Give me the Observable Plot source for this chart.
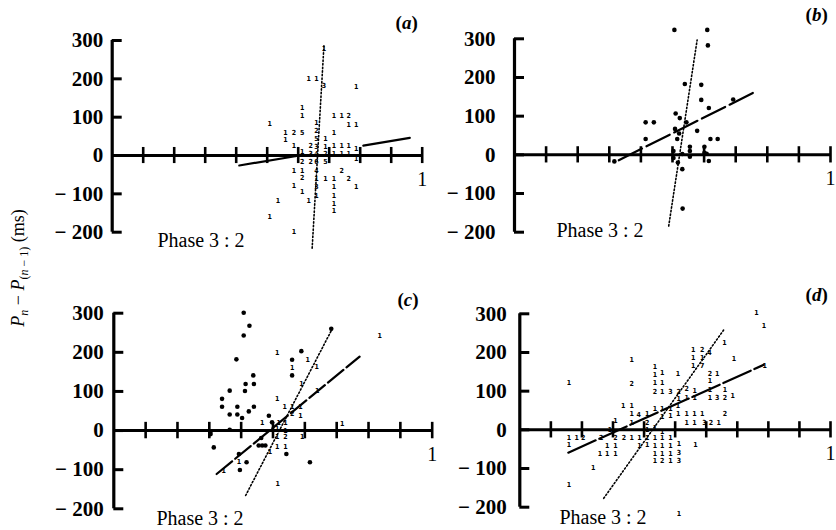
<!DOCTYPE html>
<html>
<head>
<meta charset="utf-8">
<script src="https://cdn.jsdelivr.net/npm/d3@7"></script>
<script src="https://cdn.jsdelivr.net/npm/@observablehq/plot@0.6"></script>
<style>
  body { margin: 0; background: #fff; }
  #wrap { position: relative; width: 836px; height: 530px; overflow: hidden; background: #fff; font-family: "Liberation Serif", "DejaVu Serif", serif; color: #000; }
  .pl { position: absolute; }
  .lab { position: absolute; font-size: 19px; font-weight: bold; white-space: nowrap; transform: translate(-50%, -50%); }
  .phase { position: absolute; font-size: 20px; white-space: nowrap; transform: translate(-50%, -50%); }
  #ylab { position: absolute; left: 20px; top: 268px; font-size: 18px; white-space: nowrap; transform: translate(-50%, -50%) rotate(-90deg); }
  #ylab sub { font-size: 12px; }
</style>
</head>
<body>
<div id="wrap"></div>
<script>
// ---------- data ----------
const yTicks = [-200, -100, 0, 100, 200, 300];
const xTicks = [0.1, 0.2, 0.3, 0.4, 0.5, 0.6, 0.7, 0.8, 0.9, 1];
const panelLetters = ["a", "b", "c", "d"];
const phaseLabel = "Phase 3 : 2";

// panel (a): frequency digits [x, y, count]
const digitsA = [
  [0.683,279,"1"],[0.634,201,"1"],[0.659,201,"1"],[0.683,182,"3"],[0.787,180,"1"],
  [0.613,125,"1"],[0.613,104,"1"],[0.715,104,"1"],[0.740,104,"1"],[0.763,104,"2"],
  [0.763,80,"1"],[0.787,80,"1"],[0.508,82,"1"],[0.508,-160,"1"],[0.535,-117,"1"],
  [0.559,60,"1"],[0.559,42,"1"],[0.586,60,"2"],[0.586,26,"1"],[0.586,-39,"1"],
  [0.586,-78,"1"],[0.586,-199,"1"],[0.613,60,"5"],[0.613,9,"1"],[0.613,-17,"2"],
  [0.613,-39,"1"],[0.613,-59,"2"],[0.613,-95,"1"],[0.634,-117,"1"],[0.640,26,"2"],
  [0.640,4,"3"],[0.640,-17,"2"],
  [0.659,85,"1"],[0.659,65,"2"],[0.659,43,"5"],[0.659,22,"3"],[0.659,4,"4"],
  [0.659,-17,"6"],[0.659,-39,"4"],[0.659,-61,"1"],[0.659,-82,"3"],[0.659,-104,"1"],
  [0.688,43,"1"],[0.688,22,"1"],[0.688,4,"2"],[0.688,-17,"5"],[0.688,-61,"1"],
  [0.715,60,"1"],[0.715,26,"1"],[0.715,4,"1"],[0.715,-61,"1"],[0.715,-82,"1"],
  [0.715,-104,"1"],[0.715,-126,"1"],[0.715,-143,"1"],
  [0.740,26,"1"],[0.740,4,"1"],[0.740,-39,"2"],
  [0.763,26,"1"],[0.763,4,"1"],[0.763,-61,"2"],
  [0.787,17,"1"],[0.787,-9,"1"],[0.787,-82,"1"]
];
const dotsA = [];
const regA = [[0.41,-26,1],[0.59,-2,1],[0.81,26,2],[0.96,46,2]];
const steepA = [[0.645,-242],[0.683,286]];

// panel (b)
const digitsB = [];
const dotsB = [
  [0.506,323],[0.610,323],[0.612,283],[0.539,183],[0.591,181],[0.591,142],[0.692,143],
  [0.615,121],[0.510,107],[0.523,95],[0.544,84],[0.415,84],[0.441,84],[0.508,67],
  [0.578,62],[0.521,55],[0.515,41],[0.415,41],[0.620,41],[0.643,41],[0.555,21],
  [0.601,21],[0.531,2],[0.555,10],[0.555,-5],[0.608,3],[0.615,-16],[0.316,-17],
  [0.517,-20],[0.531,-37],[0.532,-139],[0.601,5],[0.503,10],[0.503,-8]
];
const regB = [[0.33,-14,1],[0.757,161,1]];
const steepB = [[0.488,-184],[0.578,297]];

// panel (c)
const digitsC = [
  [0.513,200,"1"],[0.609,181,"1"],[0.637,162,"1"],[0.560,161,"1"],[0.589,119,"1"],
  [0.639,102,"1"],[0.513,81,"1"],[0.537,61,"1"],[0.560,61,"1"],[0.586,61,"1"],
  [0.560,43,"2"],[0.586,38,"1"],[0.466,21,"1"],[0.518,19,"1"],[0.539,19,"1"],
  [0.513,4,"1"],[0.539,0,"1"],[0.513,-17,"1"],[0.539,-17,"2"],[0.490,-55,"1"],
  [0.513,-41,"1"],[0.539,-41,"1"],[0.393,-81,"1"],[0.345,-102,"1"],[0.515,-136,"1"],
  [0.835,243,"1"],[0.717,17,"1"],[0.592,-17,"1"]
];
const dotsC = [
  [0.408,301],[0.426,268],[0.408,243],[0.385,182],[0.589,203],[0.560,181],[0.560,141],
  [0.438,141],[0.414,119],[0.440,119],[0.364,102],[0.412,101],[0.340,81],[0.340,61],
  [0.388,61],[0.440,61],[0.364,41],[0.388,41],[0.424,49],[0.403,32],[0.487,38],
  [0.497,21],[0.364,2],[0.314,-43],[0.463,-19],[0.455,-38],[0.466,-38],[0.476,-38],
  [0.393,-60],[0.417,-81],[0.396,-101],[0.542,-60],[0.616,-81],[0.304,-9],[0.683,260],
  [0.304,-2]
];
const regC = [[0.323,-111,1],[0.772,189,1]];
const steepC = [[0.414,-166],[0.686,260]];

// panel (d)
const digitsD = [
  [0.158,123,"1"],[0.158,-141,"1"],[0.158,-20,"1"],[0.158,-39,"1"],[0.183,-20,"1"],
  [0.204,-20,"2"],[0.236,-98,"1"],[0.258,-61,"1"],[0.262,-21,"2"],[0.281,-41,"1"],
  [0.308,-41,"1"],[0.281,-61,"1"],[0.308,-61,"1"],[0.290,-1,"1"],[0.308,23,"1"],
  [0.308,-20,"2"],[0.335,-20,"2"],[0.333,62,"1"],[0.360,62,"1"],[0.360,41,"1"],
  [0.360,19,"1"],[0.360,181,"1"],[0.360,118,"2"],[0.360,-20,"1"],[0.383,39,"4"],
  [0.385,-20,"1"],[0.385,-41,"1"],[0.410,41,"1"],[0.410,19,"2"],[0.410,0,"1"],
  [0.410,-20,"1"],[0.410,-39,"1"],[0.435,164,"1"],[0.435,143,"1"],[0.435,121,"1"],
  [0.435,99,"2"],[0.435,55,"1"],[0.435,6,"1"],[0.435,-20,"1"],[0.435,-41,"1"],
  [0.435,-61,"1"],[0.435,-81,"1"],[0.458,148,"1"],[0.458,121,"1"],[0.458,99,"1"],
  [0.458,55,"1"],[0.458,34,"1"],[0.458,-5,"1"],[0.458,-20,"1"],[0.458,-41,"1"],
  [0.458,-61,"1"],[0.458,-81,"2"],[0.485,99,"3"],[0.485,55,"1"],[0.485,36,"1"],
  [0.485,-20,"1"],[0.485,-41,"1"],[0.485,-61,"1"],[0.485,-81,"1"],[0.511,99,"2"],
  [0.511,81,"1"],[0.762,304,"1"],[0.786,269,"1"],[0.788,166,"1"],[0.689,183,"1"],
  [0.659,224,"1"],[0.558,206,"1"],[0.558,187,"1"],[0.558,166,"1"],[0.587,206,"2"],
  [0.610,200,"4"],[0.587,187,"1"],[0.587,166,"7"],[0.509,146,"1"],[0.509,61,"1"],
  [0.537,105,"2"],[0.537,84,"1"],[0.563,101,"1"],[0.563,84,"1"],[0.612,146,"2"],
  [0.635,146,"1"],[0.612,127,"1"],[0.612,103,"1"],[0.612,84,"1"],[0.635,84,"3"],
  [0.660,84,"2"],[0.685,88,"1"],[0.660,103,"1"],[0.537,41,"1"],[0.562,41,"1"],
  [0.587,41,"1"],[0.510,41,"1"],[0.537,19,"1"],[0.562,19,"1"],[0.594,19,"3"],
  [0.615,19,"2"],[0.640,19,"1"],[0.660,41,"2"],[0.512,-37,"1"],[0.512,-58,"3"],
  [0.512,-80,"3"],[0.565,-39,"1"],[0.512,-217,"1"]
];
const dotsD = [];
const regD = [[0.156,-59,1],[0.785,168,1]];
const steepD = [[0.270,-177],[0.657,259]];

// ---------- layout ----------
const layout = [
  {left:0,   top:0,   width:440, height:265, mL:111.7, mR:18.3, mT:40,   mB:33.3, pad:9,  lab:[406.7,23],  phase:[201,240], dash:null},
  {left:418, top:0,   width:418, height:265, mL:96,    mR:6,    mT:38.3, mB:33.3, pad:19, lab:[816.7,15],  phase:[600,230], dash:"26,5"},
  {left:0,   top:265, width:440, height:265, mL:113.3, mR:8.3,  mT:47.7, mB:21.7, pad:10, lab:[408,300],   phase:[200,518], dash:"20,4"},
  {left:418, top:265, width:418, height:265, mL:101.3, mR:6,    mT:48.3, mB:23.3, pad:13, lab:[816.7,295], phase:[603,517], dash:"30,4"}
];
const panelData = [
  {digits:digitsA, dots:dotsA, reg:regA, steep:steepA},
  {digits:digitsB, dots:dotsB, reg:regB, steep:steepB},
  {digits:digitsC, dots:dotsC, reg:regC, steep:steepC},
  {digits:digitsD, dots:dotsD, reg:regD, steep:steepD}
];

const fmt = d => d < 0 ? "\u2212 " + (-d) : String(d);
const wrap = document.getElementById("wrap");

layout.forEach((L, i) => {
  const P = panelData[i];
  const plotW = L.width - L.mL - L.mR;
  const tickLen = 10 / plotW; // inward tick length in x units
  const chart = Plot.plot({
    width: L.width, height: L.height,
    marginLeft: L.mL, marginRight: L.mR, marginTop: L.mT, marginBottom: L.mB,
    style: {fontFamily: "Liberation Serif", background: "transparent", overflow: "visible"},
    x: {domain: [0, 1], axis: null},
    y: {domain: [-200, 300]},
    marks: [
      Plot.axisY({ticks: yTicks, tickSize: 0, tickPadding: L.pad, tickFormat: fmt, fontSize: 21, fontWeight: "bold"}),
      Plot.ruleX([0], {y1: -200, y2: 300, strokeWidth: 3.2}),
      Plot.ruleY(yTicks, {x1: 0, x2: tickLen, strokeWidth: 3}),
      Plot.ruleY([0], {x1: 0, x2: 1, strokeWidth: 3}),
      Plot.ruleX(xTicks, {y1: -21, y2: 21, strokeWidth: 2.6}),
      Plot.text(["1"], {x: 1, y: 0, dy: 24, text: d => d, fontSize: 20}),
      Plot.line(P.reg, {x: d => d[0], y: d => d[1], z: d => d[2], stroke: "black", strokeWidth: 2.2, strokeDasharray: L.dash}),
      Plot.line(P.steep, {x: d => d[0], y: d => d[1], stroke: "black", strokeWidth: 1.6, strokeDasharray: "1.4,2.2"}),
      Plot.dot(P.dots, {x: d => d[0], y: d => d[1], r: 2.3, fill: "black", stroke: "none"}),
      Plot.text(P.digits, {x: d => d[0], y: d => d[1], text: d => d[2], fontSize: 7, fontWeight: "bold", fontFamily: "DejaVu Sans Condensed, DejaVu Sans"})
    ]
  });
  chart.classList.add("pl");
  chart.style.left = L.left + "px";
  chart.style.top = L.top + "px";
  wrap.appendChild(chart);

  const lab = document.createElement("div");
  lab.className = "lab";
  lab.style.left = L.lab[0] + "px";
  lab.style.top = L.lab[1] + "px";
  lab.innerHTML = "(<i>" + panelLetters[i] + "</i>)";
  wrap.appendChild(lab);

  const ph = document.createElement("div");
  ph.className = "phase";
  ph.style.left = L.phase[0] + "px";
  ph.style.top = L.phase[1] + "px";
  ph.textContent = phaseLabel;
  wrap.appendChild(ph);
});

const yl = document.createElement("div");
yl.id = "ylab";
yl.innerHTML = "<i>P</i><sub><i>n</i></sub> \u2212 <i>P</i><sub>(<i>n</i> \u2212 1)</sub> (ms)";
wrap.appendChild(yl);
</script>
</body>
</html>
